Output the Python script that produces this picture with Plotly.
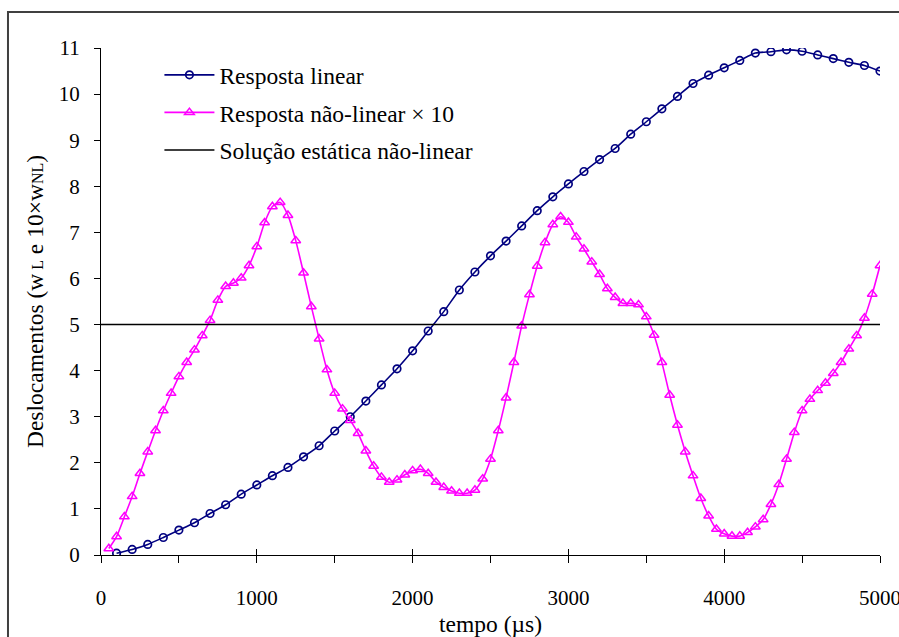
import plotly.graph_objects as go

# Sampling instants (microseconds)
t_linear = list(range(100, 5001, 100))
t_nonlinear = list(range(50, 5001, 50))

# Linear response w_L
w_linear = [
    0.04, 0.12, 0.23, 0.38, 0.54, 0.70, 0.90, 1.09, 1.32, 1.52,
    1.72, 1.90, 2.13, 2.37, 2.69, 3.00, 3.34, 3.69, 4.04, 4.43,
    4.86, 5.28, 5.75, 6.14, 6.49, 6.81, 7.14, 7.47, 7.77, 8.05,
    8.32, 8.58, 8.82, 9.13, 9.40, 9.68, 9.95, 10.23, 10.41, 10.57,
    10.73, 10.89, 10.92, 10.96, 10.93, 10.85, 10.77, 10.69, 10.62, 10.50,
]

# Non-linear response, scaled by 10
w_nonlinear_x10 = [
    0.14, 0.40, 0.83, 1.27, 1.77, 2.24, 2.70, 3.13, 3.51, 3.87,
    4.18, 4.45, 4.76, 5.09, 5.53, 5.83, 5.90, 6.01, 6.28, 6.69,
    7.21, 7.56, 7.65, 7.37, 6.82, 6.12, 5.39, 4.69, 4.02, 3.51,
    3.17, 2.92, 2.64, 2.26, 1.93, 1.69, 1.58, 1.63, 1.74, 1.83,
    1.86, 1.77, 1.58, 1.47, 1.39, 1.34, 1.34, 1.41, 1.65, 2.08,
    2.70, 3.41, 4.18, 4.97, 5.65, 6.27, 6.78, 7.17, 7.34, 7.22,
    6.90, 6.64, 6.36, 6.09, 5.78, 5.59, 5.46, 5.46, 5.43, 5.17,
    4.77, 4.18, 3.47, 2.82, 2.24, 1.72, 1.23, 0.85, 0.56, 0.46,
    0.41, 0.41, 0.49, 0.61, 0.77, 1.10, 1.53, 2.08, 2.66, 3.13,
    3.38, 3.57, 3.73, 3.94, 4.18, 4.47, 4.76, 5.14, 5.66, 6.28,
]

# Static non-linear solution
static_t = [0, 5000]
static_value = [5.0, 5.0]

x_ticks = [0, 1000, 2000, 3000, 4000, 5000]
y_ticks = list(range(0, 12))

FONT = "Liberation Serif, Times New Roman, serif"
NAVY = "#000080"
MAGENTA = "#FF00FF"
TICK_SIZE = 21
TEXT_SIZE = 23.5

fig = go.Figure()

fig.add_trace(go.Scatter(
    x=t_linear, y=w_linear, mode="lines+markers",
    name="Resposta linear", legendgroup="a",
    line=dict(color=NAVY, width=1.6, shape="spline", smoothing=0.6),
    marker=dict(symbol="circle-open", size=7.5, color=NAVY, line=dict(width=1.7)),
))
fig.add_trace(go.Scatter(
    x=t_nonlinear, y=w_nonlinear_x10, mode="lines+markers",
    name="Resposta não-linear × 10", legendgroup="b",
    line=dict(color=MAGENTA, width=1.6, shape="spline", smoothing=0.6),
    marker=dict(symbol="triangle-up-open", size=8.5, color=MAGENTA, line=dict(width=1.5)),
))
fig.add_trace(go.Scatter(
    x=static_t, y=static_value, mode="lines",
    name="Solução estática não-linear", legendgroup="c",
    line=dict(color="black", width=1.6),
))
# empty trace so the overlay axis (inner halves of the crossing ticks) is drawn
fig.add_trace(go.Scatter(x=[], y=[], xaxis="x2", showlegend=False, hoverinfo="skip"))

fig.update_layout(
    width=899, height=637,
    margin=dict(l=101, r=19, t=48, b=82, autoexpand=False),
    paper_bgcolor="white", plot_bgcolor="white",
    font=dict(family=FONT, size=TEXT_SIZE, color="black"),
    showlegend=True,
    legend=dict(
        x=0.075, y=0.99, xanchor="left", yanchor="top",
        bgcolor="rgba(0,0,0,0)", borderwidth=0,
        font=dict(family=FONT, size=TEXT_SIZE),
        tracegroupgap=4, itemwidth=50,
    ),
    xaxis=dict(
        range=[0, 5000], tickvals=x_ticks, ticktext=[str(v) for v in x_ticks],
        showgrid=False, zeroline=False, automargin=False,
        showline=True, linecolor="black", linewidth=1,
        ticks="outside", ticklen=6, tickcolor="black", tickwidth=1,
        minor=dict(dtick=500, ticks="outside", ticklen=7, tickcolor="black", tickwidth=1, showgrid=False),
        ticklabelstandoff=18, ticklabeloverflow="allow",
        tickfont=dict(family=FONT, size=TICK_SIZE),
        title=dict(text="tempo (µs)", font=dict(family=FONT, size=TEXT_SIZE), standoff=8),
    ),
    xaxis2=dict(
        range=[0, 5000], overlaying="x", anchor="y", side="bottom",
        tickvals=x_ticks, showticklabels=False, showgrid=False, zeroline=False,
        showline=False, ticks="inside", ticklen=6, tickcolor="black", tickwidth=1,
    ),
    yaxis=dict(
        range=[0, 11], tickvals=y_ticks,
        showgrid=False, zeroline=False, automargin=False,
        showline=True, linecolor="black", linewidth=1,
        ticks="outside", ticklen=6, tickcolor="black", tickwidth=1,
        ticklabelstandoff=10,
        tickfont=dict(family=FONT, size=TICK_SIZE),
        title=dict(
            text='Deslocamentos (w<span style="font-size:16px"> L</span> e 10×w<span style="font-size:16px">NL</span>)',
            font=dict(family=FONT, size=TEXT_SIZE), standoff=8,
        ),
    ),
    shapes=[
        # outer chart frame
        dict(type="rect", xref="paper", yref="paper",
             x0=-0.1194, x1=1.2, y0=-0.4, y1=1.071,
             line=dict(color="#404040", width=2), fillcolor="rgba(0,0,0,0)", layer="above"),
    ],
)

fig.write_html("out.html")
